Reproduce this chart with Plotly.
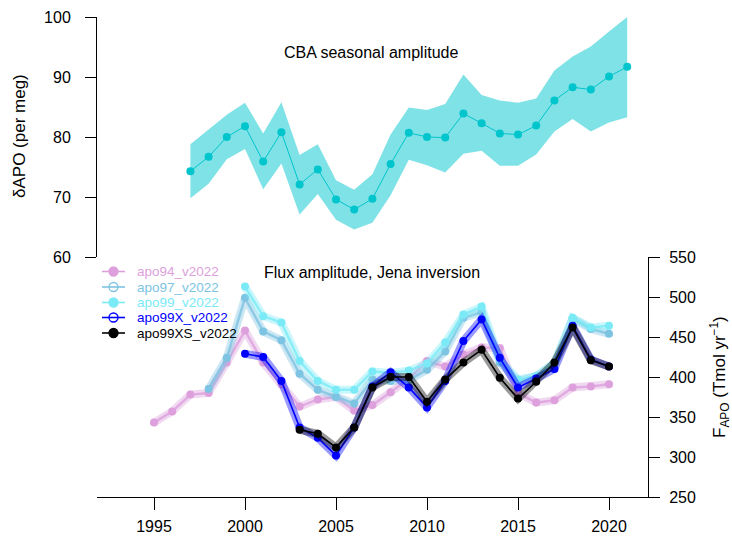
import plotly.graph_objects as go

# ---- CBA seasonal amplitude (per meg) with uncertainty envelope ----
cba_years = list(range(1997, 2022))
cba_amp = [74.3, 76.7, 80.0, 81.8, 75.9, 80.8, 72.1, 74.6, 69.6, 67.9, 69.7, 75.5,
           80.7, 80.0, 79.9, 83.9, 82.3, 80.6, 80.4, 81.9, 86.1, 88.3, 87.9, 90.1, 91.7]
cba_upper = [78.8, 81.2, 83.7, 85.7, 80.6, 85.8, 77.0, 78.8, 72.8, 71.2, 73.8, 80.4,
             84.9, 84.5, 85.5, 90.4, 87.0, 86.1, 85.7, 86.4, 91.1, 93.4, 95.1, 97.6, 100.0]
cba_lower = [69.8, 72.2, 76.3, 78.0, 71.3, 75.6, 67.1, 70.5, 66.2, 64.6, 65.7, 70.3,
             76.2, 75.3, 74.1, 77.2, 77.7, 75.2, 75.2, 77.1, 80.9, 83.0, 80.9, 82.4, 83.3]

# ---- Flux amplitude from the Jena inversion runs (Tmol/yr) ----
apo94_years = list(range(1995, 2021))
apo94 = [343, 357, 378, 380, 418, 458, 418, 391, 363, 372, 375, 358, 365, 381, 398,
         420, 413, 428, 437, 436, 380, 368, 371, 387, 388, 391]

apo97_years = list(range(1998, 2021))
apo97 = [385, 424, 499, 457, 446, 404, 384, 375, 367, 397, 395, 396, 409, 432, 474,
         481, 418, 395, 401, 416, 473, 460, 454]

apo99_years = list(range(2000, 2021))
apo99 = [513, 476, 468, 420, 395, 384, 384, 407, 405, 408, 417, 443, 478, 488, 422,
         397, 401, 418, 474, 462, 464]

apo99X_years = list(range(2000, 2021))
apo99X = [429, 425, 395, 337, 324, 302, 337, 388, 406, 387, 362, 395, 445, 472, 424,
          387, 398, 410, 464, 422, 413]

apo99XS_years = list(range(2003, 2021))
apo99XS = [334, 329, 312, 337, 387, 400, 400, 369, 397, 418, 434, 399, 373, 394, 418,
           462, 421, 413]

series_names = ["apo94_v2022", "apo97_v2022", "apo99_v2022", "apo99X_v2022", "apo99XS_v2022"]
series_years = [apo94_years, apo97_years, apo99_years, apo99X_years, apo99XS_years]
series_vals = [apo94, apo97, apo99, apo99X, apo99XS]
series_rgb = [(221, 160, 221), (125, 195, 226), (122, 234, 246), (0, 0, 255), (0, 0, 0)]
series_open_key = [False, True, False, True, False]

year_ticks = [1995, 2000, 2005, 2010, 2015, 2020]

FONT = "Liberation Sans, Arial, Helvetica, sans-serif"
CBA_RGB = (0, 197, 205)


def rgba(c, a):
    return f"rgba({c[0]},{c[1]},{c[2]},{a})"


fig = go.Figure()

# envelope + central line for the seasonal amplitude
fig.add_trace(go.Scatter(
    x=cba_years + cba_years[::-1], y=cba_upper + cba_lower[::-1],
    fill="toself", fillcolor=rgba(CBA_RGB, 0.5), line=dict(width=0),
    mode="lines", hoverinfo="skip", showlegend=False, xaxis="x2", yaxis="y2"))
fig.add_trace(go.Scatter(
    x=cba_years, y=cba_amp, mode="lines+markers",
    line=dict(color=rgba(CBA_RGB, 1), width=1),
    marker=dict(color=rgba(CBA_RGB, 1), size=8),
    showlegend=False, xaxis="x2", yaxis="y2"))

# flux amplitude series: translucent thick band under a thin line with dots
for name, yrs, vals, c in zip(series_names, series_years, series_vals, series_rgb):
    fig.add_trace(go.Scatter(
        x=yrs, y=vals, mode="lines", line=dict(color=rgba(c, 0.4), width=8),
        hoverinfo="skip", showlegend=False, xaxis="x", yaxis="y"))
    dark = c in [(0, 0, 255), (0, 0, 0)]
    fig.add_trace(go.Scatter(
        x=yrs, y=vals, mode="lines+markers", name=name,
        line=dict(color=rgba(c, 1 if dark else 0.8), width=1.6 if dark else 2.5),
        marker=dict(color=rgba(c, 1), size=8),
        showlegend=False, xaxis="x", yaxis="y"))

# pixel -> paper helpers (plot area spans x 97..648, y 17..497)
L, R, T, B = 97, 84, 17, 41
W, H = 732, 538
PW, PH = W - L - R, H - T - B


def px(x):
    return (x - L) / PW


def py(y):
    return (H - B - y) / PH


shapes = []
annotations = []

# key for the flux series
row_y = [271.5, 287, 302.5, 317.5, 333]
for name, c, is_open, ry in zip(series_names, series_rgb, series_open_key, row_y):
    col = rgba(c, 1)
    shapes.append(dict(type="line", xref="paper", yref="paper",
                       x0=px(102), x1=px(125), y0=py(ry), y1=py(ry),
                       line=dict(color=col, width=1.6)))
    shapes.append(dict(type="circle", xref="paper", yref="paper",
                       xsizemode="pixel", ysizemode="pixel",
                       xanchor=px(113.5), yanchor=py(ry),
                       x0=-4.5, x1=4.5, y0=-4.5, y1=4.5,
                       fillcolor="rgba(0,0,0,0)" if is_open else col,
                       line=dict(color=col, width=1.3)))
    annotations.append(dict(xref="paper", yref="paper", x=px(135), y=py(ry),
                            xanchor="left", yanchor="middle", showarrow=False,
                            text=name, font=dict(family=FONT, size=13.5, color=col)))

# panel titles
annotations.append(dict(xref="paper", yref="paper", x=px(371), y=py(53),
                        xanchor="center", yanchor="middle", showarrow=False,
                        text="CBA seasonal amplitude",
                        font=dict(family=FONT, size=16, color="black")))
annotations.append(dict(xref="paper", yref="paper", x=px(372), y=py(272),
                        xanchor="center", yanchor="middle", showarrow=False,
                        text="Flux amplitude, Jena inversion",
                        font=dict(family=FONT, size=16, color="black")))

# axis titles
annotations.append(dict(xref="paper", yref="paper", x=px(19), y=py(136),
                        xanchor="center", yanchor="middle", showarrow=False,
                        textangle=-90, text="δAPO (per meg)",
                        font=dict(family=FONT, size=17, color="black")))
annotations.append(dict(xref="paper", yref="paper", x=px(719), y=py(377),
                        xanchor="center", yanchor="middle", showarrow=False,
                        textangle=-90, text="F<sub>APO</sub> (Tmol yr<sup>−1</sup>)",
                        font=dict(family=FONT, size=17, color="black")))

x_range = [1995 - (154 - L) / 18.2, 1995 + (648 - 154) / 18.2]

axis_common = dict(showgrid=False, zeroline=False, showline=True, linecolor="black",
                   linewidth=1, ticks="outside", tickcolor="black", tickwidth=1,
                   automargin=False,
                   tickfont=dict(family=FONT, size=16, color="black"))

fig.update_layout(
    width=W, height=H,
    margin=dict(l=L, r=R, t=T, b=B, pad=0, autoexpand=False),
    paper_bgcolor="white", plot_bgcolor="white",
    showlegend=False,
    xaxis=dict(domain=[0, 1], range=x_range, anchor="y", tickvals=year_ticks,
               ticklen=12, ticklabelstandoff=3, **axis_common),
    yaxis=dict(domain=[0, 0.5], range=[250, 550], anchor="x", side="right",
               tickvals=[250, 300, 350, 400, 450, 500, 550], ticklen=11,
               ticklabelstandoff=6, **axis_common),
    xaxis2=dict(domain=[0, 1], matches="x", anchor="y2", visible=False,
                automargin=False),
    yaxis2=dict(domain=[0.5, 1], range=[60, 100], anchor="x2", side="left",
                tickvals=[60, 70, 80, 90, 100], ticklen=11, ticklabelstandoff=11,
                **axis_common),
    shapes=shapes,
    annotations=annotations,
)

fig.write_html("out.html")
